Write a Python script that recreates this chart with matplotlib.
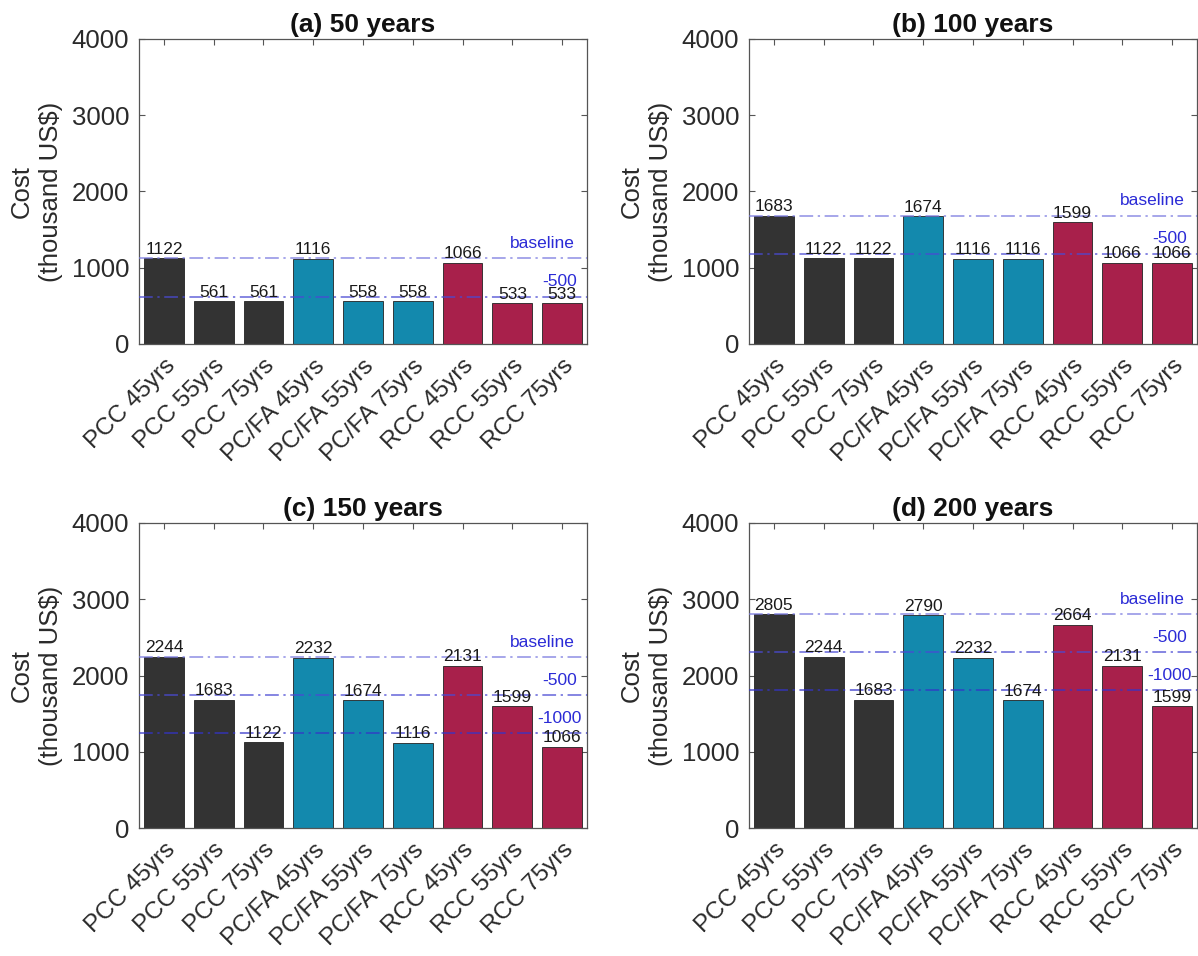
import matplotlib
matplotlib.use("Agg")
import matplotlib.pyplot as plt
import numpy as np

plt.rcParams['font.family'] = ['Liberation Sans', 'DejaVu Sans']

categories = ["PCC 45yrs", "PCC 55yrs", "PCC 75yrs",
              "PC/FA 45yrs", "PC/FA 55yrs", "PC/FA 75yrs",
              "RCC 45yrs", "RCC 55yrs", "RCC 75yrs"]

titles = ["(a) 50 years", "(b) 100 years", "(c) 150 years", "(d) 200 years"]

cost_50 = [1122, 561, 561, 1116, 558, 558, 1066, 533, 533]
cost_100 = [1683, 1122, 1122, 1674, 1116, 1116, 1599, 1066, 1066]
cost_150 = [2244, 1683, 1122, 2232, 1674, 1116, 2131, 1599, 1066]
cost_200 = [2805, 2244, 1683, 2790, 2232, 1674, 2664, 2131, 1599]

baseline = [1122, 1683, 2244, 2805]
reductions = [[0, 500], [0, 500], [0, 500, 1000], [0, 500, 1000]]
reduction_labels = [["baseline", "-500"], ["baseline", "-500"],
                    ["baseline", "-500", "-1000"], ["baseline", "-500", "-1000"]]

yticks = [0, 1000, 2000, 3000, 4000]

all_costs = [cost_50, cost_100, cost_150, cost_200]
bar_colors = ["#333333"] * 3 + ["#1389ad"] * 3 + ["#a8204b"] * 3

W, H = 1198, 956
fig = plt.figure(figsize=(W / 100, H / 100), dpi=100)

ax_w = 448 / W
ax_h = 305 / H
lefts = [139 / W, 749 / W]
bottoms = [1 - 344 / H, 1 - 828 / H]

axis_col = "#555555"
text_col = "#2a2a2a"
line_cols = ["#7a7ae0", "#4a4ad4", "#3434c8"]

for i in range(4):
    r, c = divmod(i, 2)
    ax = fig.add_axes([lefts[c], bottoms[r], ax_w, ax_h])
    vals = all_costs[i]
    x = np.arange(1, len(categories) + 1)
    ax.bar(x, vals, width=0.8, color=bar_colors, edgecolor="#222222",
           linewidth=0.6, zorder=2)
    for xi, v in zip(x, vals):
        ax.text(xi, v + 20, str(v), ha="center", va="bottom",
                fontsize=12.5, color="#1a1a1a", zorder=4)
    for j, (red, lab) in enumerate(zip(reductions[i], reduction_labels[i])):
        yv = baseline[i] - red
        ax.axhline(yv, color=line_cols[j], lw=1.1, alpha=0.85,
                   dashes=(9, 3, 1.5, 3), zorder=3)
        xt = 8.6 if j == 0 else 8.95
        ax.text(xt, yv + 195, lab, ha="center", va="center",
                fontsize=12.5, color="#2b2bd6", zorder=4)
    ax.set_xlim(0.5, 9.5)
    ax.set_ylim(0, 4000)
    ax.set_yticks(yticks)
    ax.set_yticklabels([str(t) for t in yticks], fontsize=18.5, color=text_col)
    ax.set_xticks(x)
    ax.set_xticklabels(categories, rotation=45, ha="right",
                       rotation_mode="anchor", fontsize=17.5, color=text_col)
    ax.tick_params(axis="both", direction="in", top=True, right=True,
                   length=4, width=0.8, color=axis_col)
    ax.tick_params(axis="y", pad=7)
    ax.tick_params(axis="x", pad=8)
    for s in ax.spines.values():
        s.set_color(axis_col)
        s.set_linewidth(0.9)
    ax.set_ylabel("Cost\n(thousand US$)", fontsize=18.5, color=text_col,
                  linespacing=1.3, labelpad=6)
    ax.set_title(titles[i], fontsize=19, fontweight="bold", color="#111111",
                 pad=5)

fig.savefig("out.png", dpi=100)
